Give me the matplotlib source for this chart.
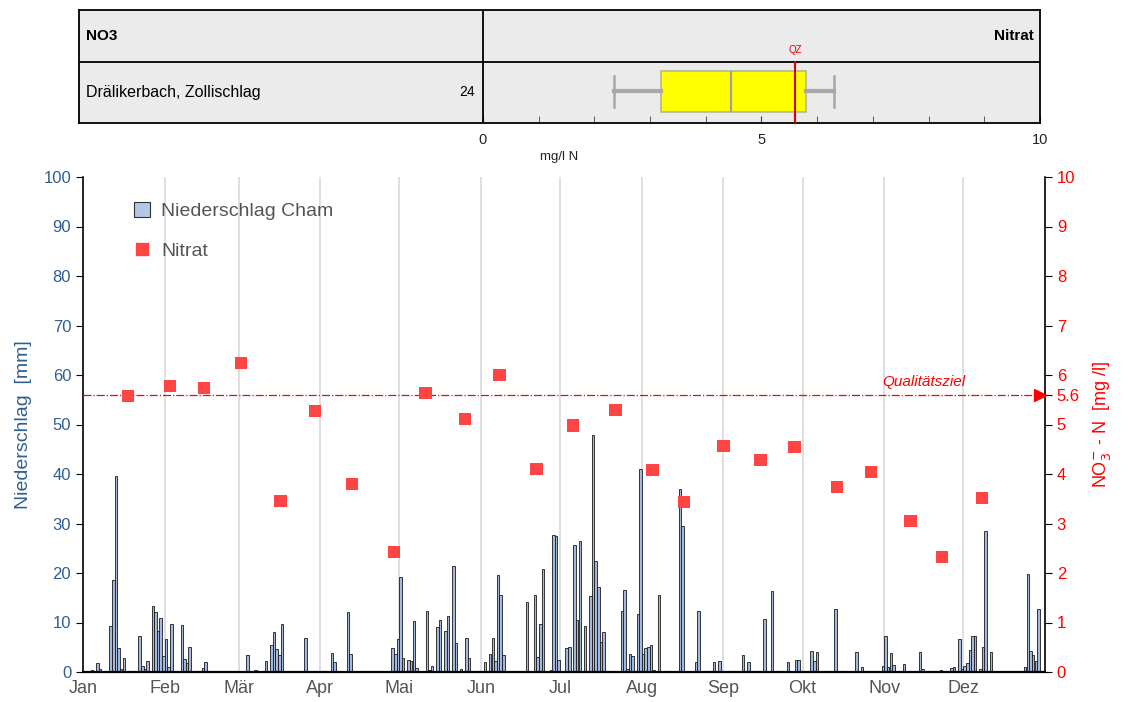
import matplotlib
matplotlib.use('Agg')
import matplotlib.pyplot as plt
from matplotlib.patches import Patch
from matplotlib.lines import Line2D
import numpy as np

plt.rcParams['font.family'] = ['Liberation Sans', 'DejaVu Sans']

# ---- data ----
months = ['Jan', 'Feb', 'Mär', 'Apr', 'Mai', 'Jun', 'Jul', 'Aug', 'Sep', 'Okt', 'Nov', 'Dez']
month_start = [0, 31, 59, 90, 120, 151, 181, 212, 243, 273, 304, 334]

# daily precipitation Cham (day index, 0 = 1 Jan) in mm
rain_day = [3, 5, 6, 10, 11, 12, 13, 14, 15, 21, 22, 23, 24, 26, 27, 28, 29, 30,
            31, 32, 33, 37, 38, 39, 40, 45, 46,
            62, 65, 67, 69, 71, 72, 73, 74, 75, 79, 84,
            94, 95, 100, 101, 117, 118, 119,
            120, 121, 123, 124, 125, 126, 130, 131, 132, 134, 135, 137, 138, 140, 141, 143, 145, 146,
            152, 154, 155, 156, 157, 158, 159, 168, 171, 172, 173, 174, 177, 178, 179, 180,
            183, 184, 186, 187, 188, 190, 192, 193, 194, 195, 196, 197, 204, 205, 206, 207, 208, 210, 211,
            212, 213, 214, 215, 216, 218, 226, 227, 232, 233, 239, 240, 241,
            250, 252, 257, 258, 261, 262, 267, 270, 271,
            276, 277, 278, 285, 293, 295,
            303, 304, 305, 306, 307, 311, 317, 318, 325, 329, 330, 331, 332, 333,
            334, 335, 336, 337, 338, 340, 341, 342, 344, 345, 357, 358, 359, 360, 361, 362, 363]
rain_mm = [0.4, 1.9, 0.6, 9.2, 18.6, 39.5, 4.9, 0.6, 2.9, 7.2, 1.2, 0.6, 2.2, 13.3, 12.1, 8.3, 10.9, 3.3,
           6.7, 1.1, 9.6, 9.4, 2.6, 1.9, 5.0, 0.8, 2.1,
           3.4, 0.5, 0.3, 2.2, 5.4, 8.1, 4.6, 3.4, 9.7, 0.2, 6.8,
           3.9, 2.0, 12.1, 3.6, 4.9, 3.6, 6.6,
           19.2, 2.8, 2.4, 2.2, 10.4, 0.9, 12.3, 0.5, 1.3, 9.0, 10.6, 8.2, 11.4, 21.4, 5.8, 0.6, 6.8, 2.9,
           2.0, 3.7, 6.9, 2.3, 19.5, 15.6, 3.4, 14.2, 15.6, 3.0, 9.6, 20.9, 0.5, 27.7, 27.5, 2.4,
           4.8, 5.1, 25.6, 10.6, 26.4, 9.3, 15.4, 47.8, 22.4, 17.1, 6.0, 8.0, 12.3, 16.5, 0.7, 3.6, 3.2, 11.8, 41.0,
           3.6, 4.8, 5.0, 5.5, 0.5, 15.6, 36.9, 29.4, 2.0, 12.3, 2.0, 0.2, 2.2,
           3.4, 2.0, 0.2, 10.8, 16.3, 0.2, 2.0, 2.4, 2.4,
           4.2, 2.3, 4.0, 12.7, 4.0, 1.1,
           1.2, 7.2, 1.0, 3.8, 1.5, 1.7, 4.0, 0.7, 0.4, 0.8, 1.0, 0.2, 6.7, 0.6,
           1.3, 1.9, 4.5, 7.2, 7.2, 0.7, 5.0, 28.4, 4.0, 0.2, 1.0, 19.8, 4.2, 3.4, 2.2, 12.8, 0.2]

# nitrate samples (day index) in mg/l N
nitrat_day = [17, 33, 46, 60, 75, 88, 102, 118, 130, 145, 158, 172,
              186, 202, 216, 228, 243, 257, 270, 286, 299, 314, 326, 341]
nitrat = [5.58, 5.78, 5.74, 6.24, 3.45, 5.27, 3.80, 2.42, 5.64, 5.11, 6.00, 4.10,
          4.98, 5.29, 4.08, 3.43, 4.57, 4.28, 4.55, 3.74, 4.04, 3.05, 2.32, 3.52]

qz = 5.6
n_samples = 24
# box plot stats as drawn in the header panel
box_stats = {'whislo': 2.35, 'q1': 3.2, 'med': 4.45, 'q3': 5.8, 'whishi': 6.3}

blue_txt = '#2f5f8f'
red = '#ff0000'

fig = plt.figure(figsize=(11.28, 7.02), dpi=100)

# ---- header panel with box plot ----
ax0 = fig.add_axes([79 / 1128, 1 - 123 / 702, 961 / 1128, 113 / 702])
ax0.set_facecolor('#ebebeb')
ax0.set_xlim(-7.25, 10)
ax0.set_ylim(0, 1)
for sp in ax0.spines.values():
    sp.set_color('black')
    sp.set_linewidth(1.3)
ax0.axhline(0.54, color='black', lw=1.3)
ax0.axvline(0, color='black', lw=1.3)
ax0.set_yticks([])
ax0.set_xticks([0, 5, 10])
ax0.set_xticks(range(1, 10), minor=True)
ax0.tick_params(axis='x', which='both', direction='in', length=5, color='#444444',
                labelsize=10.5, labelcolor='#222222', pad=7)
ax0.set_xlabel('mg/l N', fontsize=9.5, labelpad=3, color='#222222')

ax0.bxp([box_stats], positions=[0.28], widths=0.36, capwidths=0.27, orientation='horizontal',
        showfliers=False, patch_artist=True, manage_ticks=False,
        boxprops=dict(facecolor='#ffff00', edgecolor='#b8b890', lw=1.2),
        whiskerprops=dict(color='#a8a8a8', lw=3),
        capprops=dict(color='#a8a8a8', lw=1.8),
        medianprops=dict(color='#a0a0a0', lw=1.5), zorder=3)
ax0.plot([qz, qz], [0, 0.54], color='#dd0000', lw=1.5, zorder=4)
ax0.text(qz, 0.6, 'QZ', color='#dd0000', fontsize=7, ha='center', va='bottom')

ax0.text(-7.12, 0.77, 'NO3', fontsize=11, fontweight='bold', va='center')
ax0.text(9.88, 0.77, 'Nitrat', fontsize=11, fontweight='bold', va='center', ha='right')
ax0.text(-7.12, 0.27, 'Drälikerbach, Zollischlag', fontsize=11.5, va='center')
ax0.text(-0.15, 0.27, str(n_samples), fontsize=10, va='center', ha='right')

# ---- main chart ----
ax = fig.add_axes([83 / 1128, 1 - 672 / 702, 962 / 1128, 495 / 702])
ax.set_xlim(0, 365)
ax.set_ylim(0, 100)

for m in month_start[1:]:
    ax.axvline(m, color='#dcdcdc', lw=1.3, zorder=0)

ax.bar(np.array(rain_day) + 0.5, rain_mm, width=0.95, color='#a3b8db',
       edgecolor='#1a1a1a', linewidth=0.6, zorder=2)

ax.set_xticks(month_start)
ax.set_xticklabels(months)
ax.tick_params(axis='x', length=0, labelsize=13, labelcolor='#555555', pad=6)
ax.set_yticks(range(0, 101, 10))
ax.tick_params(axis='y', direction='out', length=5, labelsize=12, labelcolor=blue_txt)
ax.set_ylabel('Niederschlag  [mm]', fontsize=14, color=blue_txt, labelpad=8)
ax.spines['top'].set_visible(False)
ax.spines['right'].set_visible(False)
ax.spines['left'].set_linewidth(1.2)
ax.spines['bottom'].set_linewidth(1.6)

leg_handles = [Patch(facecolor='#b4c7e7', edgecolor='#333333', lw=0.8),
               Line2D([], [], marker='s', ls='none', color='#ff4444', ms=9)]
ax.legend(leg_handles, ['Niederschlag Cham', 'Nitrat'], loc='upper left',
          bbox_to_anchor=(0.035, 0.985), frameon=False, fontsize=14, labelcolor='#555555',
          handlelength=0.8, handleheight=0.8, labelspacing=1.1, handletextpad=0.6)

# ---- nitrate on right axis ----
ax2 = ax.twinx()
ax2.set_ylim(0, 10)
ax2.set_xlim(0, 365)
ax2.plot([0, 365], [qz, qz], color=red, lw=0.9, ls='-.', zorder=3)
ax2.plot([363], [qz], marker='>', color=red, ms=8, clip_on=False, zorder=4)
ax2.text(319, qz + 0.12, 'Qualitätsziel', color=red, fontsize=11, style='italic',
         ha='center', va='bottom')
ax2.scatter(nitrat_day, nitrat, marker='s', s=80, color='#ff4444', edgecolor='none', zorder=5)

ax2.set_yticks(list(range(0, 11)) + [qz])
ax2.set_yticklabels([str(i) for i in range(0, 11)] + ['5.6'])
ax2.tick_params(axis='y', direction='out', length=5, labelsize=12, labelcolor=red)
ax2.set_ylabel('NO$_3^{-}$ - N  [mg /l]', fontsize=13, color=red, labelpad=8)
ax2.spines['top'].set_visible(False)
ax2.spines['left'].set_visible(False)
ax2.spines['right'].set_linewidth(1.2)
ax2.spines['bottom'].set_visible(False)

fig.savefig('out.png', dpi=100)
